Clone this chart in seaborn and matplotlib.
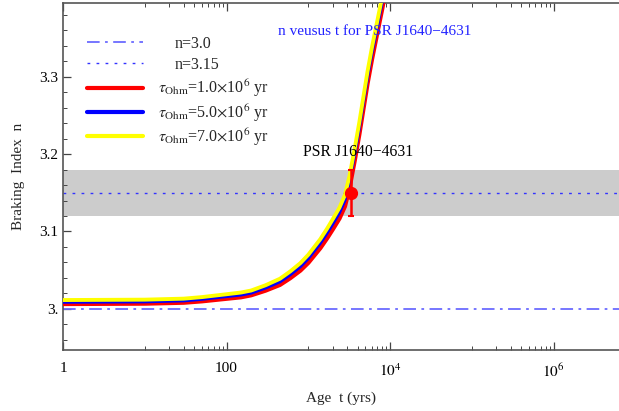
import numpy as np
import pandas as pd
import matplotlib
matplotlib.use("Agg")
import matplotlib.pyplot as plt
import matplotlib.ticker as mticker
from matplotlib.lines import Line2D
import seaborn as sns

# ---- data ----
age = [1, 10, 30, 50, 100, 150, 200, 300, 450, 600, 800, 1000, 1400, 1700, 2000, 2400, 2800, 3200, 3700, 4200, 4700, 5300, 6000, 7000, 8000, 10000]
n_tau5 = [3.0087, 3.0092, 3.0105, 3.0125, 3.0160, 3.0180, 3.0205, 3.0270, 3.0350, 3.0440, 3.0545, 3.0650, 3.0846, 3.0980, 3.1100, 3.1240, 3.1400, 3.1650, 3.2000, 3.2330, 3.2650, 3.2990, 3.3300, 3.3650, 3.3950, 3.4500]
n_tau1 = [3.0065, 3.0070, 3.0082, 3.0100, 3.0133, 3.0152, 3.0178, 3.0238, 3.0312, 3.0398, 3.0497, 3.0597, 3.0786, 3.0915, 3.1032, 3.1168, 3.1325, 3.1575, 3.1925, 3.2255, 3.2575, 3.2915, 3.3225, 3.3575, 3.3875, 3.4425]
n_tau7 = [3.0115, 3.0120, 3.0133, 3.0153, 3.0190, 3.0212, 3.0238, 3.0306, 3.0390, 3.0484, 3.0592, 3.0700, 3.0900, 3.1038, 3.1162, 3.1306, 3.1470, 3.1722, 3.2075, 3.2405, 3.2725, 3.3065, 3.3375, 3.3725, 3.4025, 3.4575]
series_labels = [r"$\tau_{\rm Ohm}$=1.0$\times$10$^6$ yr",
                 r"$\tau_{\rm Ohm}$=5.0$\times$10$^6$ yr",
                 r"$\tau_{\rm Ohm}$=7.0$\times$10$^6$ yr"]
series_colors = ["#ff0000", "#0000ff", "#ffff00"]
psr_age = [3350]
psr_n = [3.15]
psr_err = [0.03]
n_ref = [3.0, 3.15]
ref_labels = ["n=3.0", "n=3.15"]
ytick_vals = [3.0, 3.1, 3.2, 3.3]
ytick_labels = ["3.", "3.1", "3.2", "3.3"]
xtick_vals = [1, 100, 1e4, 1e6]
xtick_labels = ["1", "100", r"$10^{4}$", r"$10^{6}$"]

sns.set_style("ticks")
plt.rcParams["font.family"] = ["Liberation Serif", "DejaVu Serif"]
plt.rcParams["mathtext.fontset"] = "stix"

fig = plt.figure(figsize=(6.19, 4.11), dpi=100)
ax = fig.add_axes([63/619, 1-350/411, 1-63/619, 347/411])

# shaded band for measured n
ax.axhspan(psr_n[0]-psr_err[0], psr_n[0]+psr_err[0], color="#cccccc", zorder=0, lw=0)

dd = (7, 3, 1.5, 3)
dot = (2, 4.5)
ax.axhline(n_ref[0], color="#6b6bff", lw=1.3, dashes=dd, zorder=1)
ax.axhline(n_ref[1], color="#3333ff", lw=1.0, dashes=dot, zorder=1)

df = pd.DataFrame({"age": age * 3,
                   "n": n_tau1 + n_tau5 + n_tau7,
                   "tau": [series_labels[0]]*len(age) + [series_labels[1]]*len(age) + [series_labels[2]]*len(age)})
widths = [3.2, 2.2, 2.8]
for lab, col, w in zip(series_labels, series_colors, widths):
    sns.lineplot(data=df[df["tau"] == lab], x="age", y="n", color=col, lw=w, ax=ax,
                 legend=False, zorder=3)

ax.errorbar(psr_age, psr_n, yerr=psr_err, fmt="o", color="#ff0000", ms=8.5,
            capsize=2.2, elinewidth=1.8, capthick=1.5, zorder=5)

ax.set_xscale("log")
ax.set_xlim(1, 10**6.8)
ax.set_ylim(2.947, 3.395)

ax.set_yticks(ytick_vals)
ax.set_yticklabels(ytick_labels)
ax.yaxis.set_minor_locator(mticker.MultipleLocator(0.02))
ax.set_xticks(xtick_vals)
ax.set_xticklabels(xtick_labels)
minors = [m * 100.0**k for k in range(4) for m in range(10, 100, 10)]
ax.xaxis.set_minor_locator(mticker.FixedLocator(minors))
ax.xaxis.set_minor_formatter(mticker.NullFormatter())

ax.tick_params(which="both", direction="in", top=True, right=False, colors="#444444",
               labelcolor="black", labelsize=11)
ax.tick_params(axis="x", which="major", pad=9)
ax.tick_params(which="major", length=6, width=0.9)
ax.tick_params(which="minor", length=3, width=0.7)
for s in ["left", "bottom", "top"]:
    ax.spines[s].set_color("#555555")
    ax.spines[s].set_linewidth(1.2)
ax.spines["right"].set_visible(False)

ax.set_xlabel("Age  t (yrs)", fontsize=11, labelpad=8)
ax.set_ylabel("Braking  Index  n", fontsize=11, labelpad=10)

ax.text(0.561, 0.919, "n veusus t for PSR J1640\u22124631", transform=ax.transAxes,
        color="#2222ff", fontsize=11, ha="center", va="center")
ax.text(0.531, 0.571, "PSR J1640\u22124631", transform=ax.transAxes,
        color="black", fontsize=11.3, ha="center", va="center")

h1 = [Line2D([], [], color="#6b6bff", lw=1.3, dashes=dd),
      Line2D([], [], color="#3333ff", lw=1.0, dashes=dot)]
leg1 = ax.legend(h1, ref_labels, loc="upper left", bbox_to_anchor=(0.043, 0.905),
                 frameon=False, fontsize=11.5, handlelength=3.5, handletextpad=2.0,
                 labelspacing=0.31, borderpad=0, borderaxespad=0)
ax.add_artist(leg1)
h2 = [Line2D([], [], color=c, lw=3) for c in series_colors]
ax.legend(h2, series_labels, loc="upper left", bbox_to_anchor=(0.043, 0.784),
          frameon=False, fontsize=11.5, handlelength=3.5, handletextpad=0.95,
          labelspacing=0.17, borderpad=0, borderaxespad=0)

fig.savefig("out.png", dpi=100)
